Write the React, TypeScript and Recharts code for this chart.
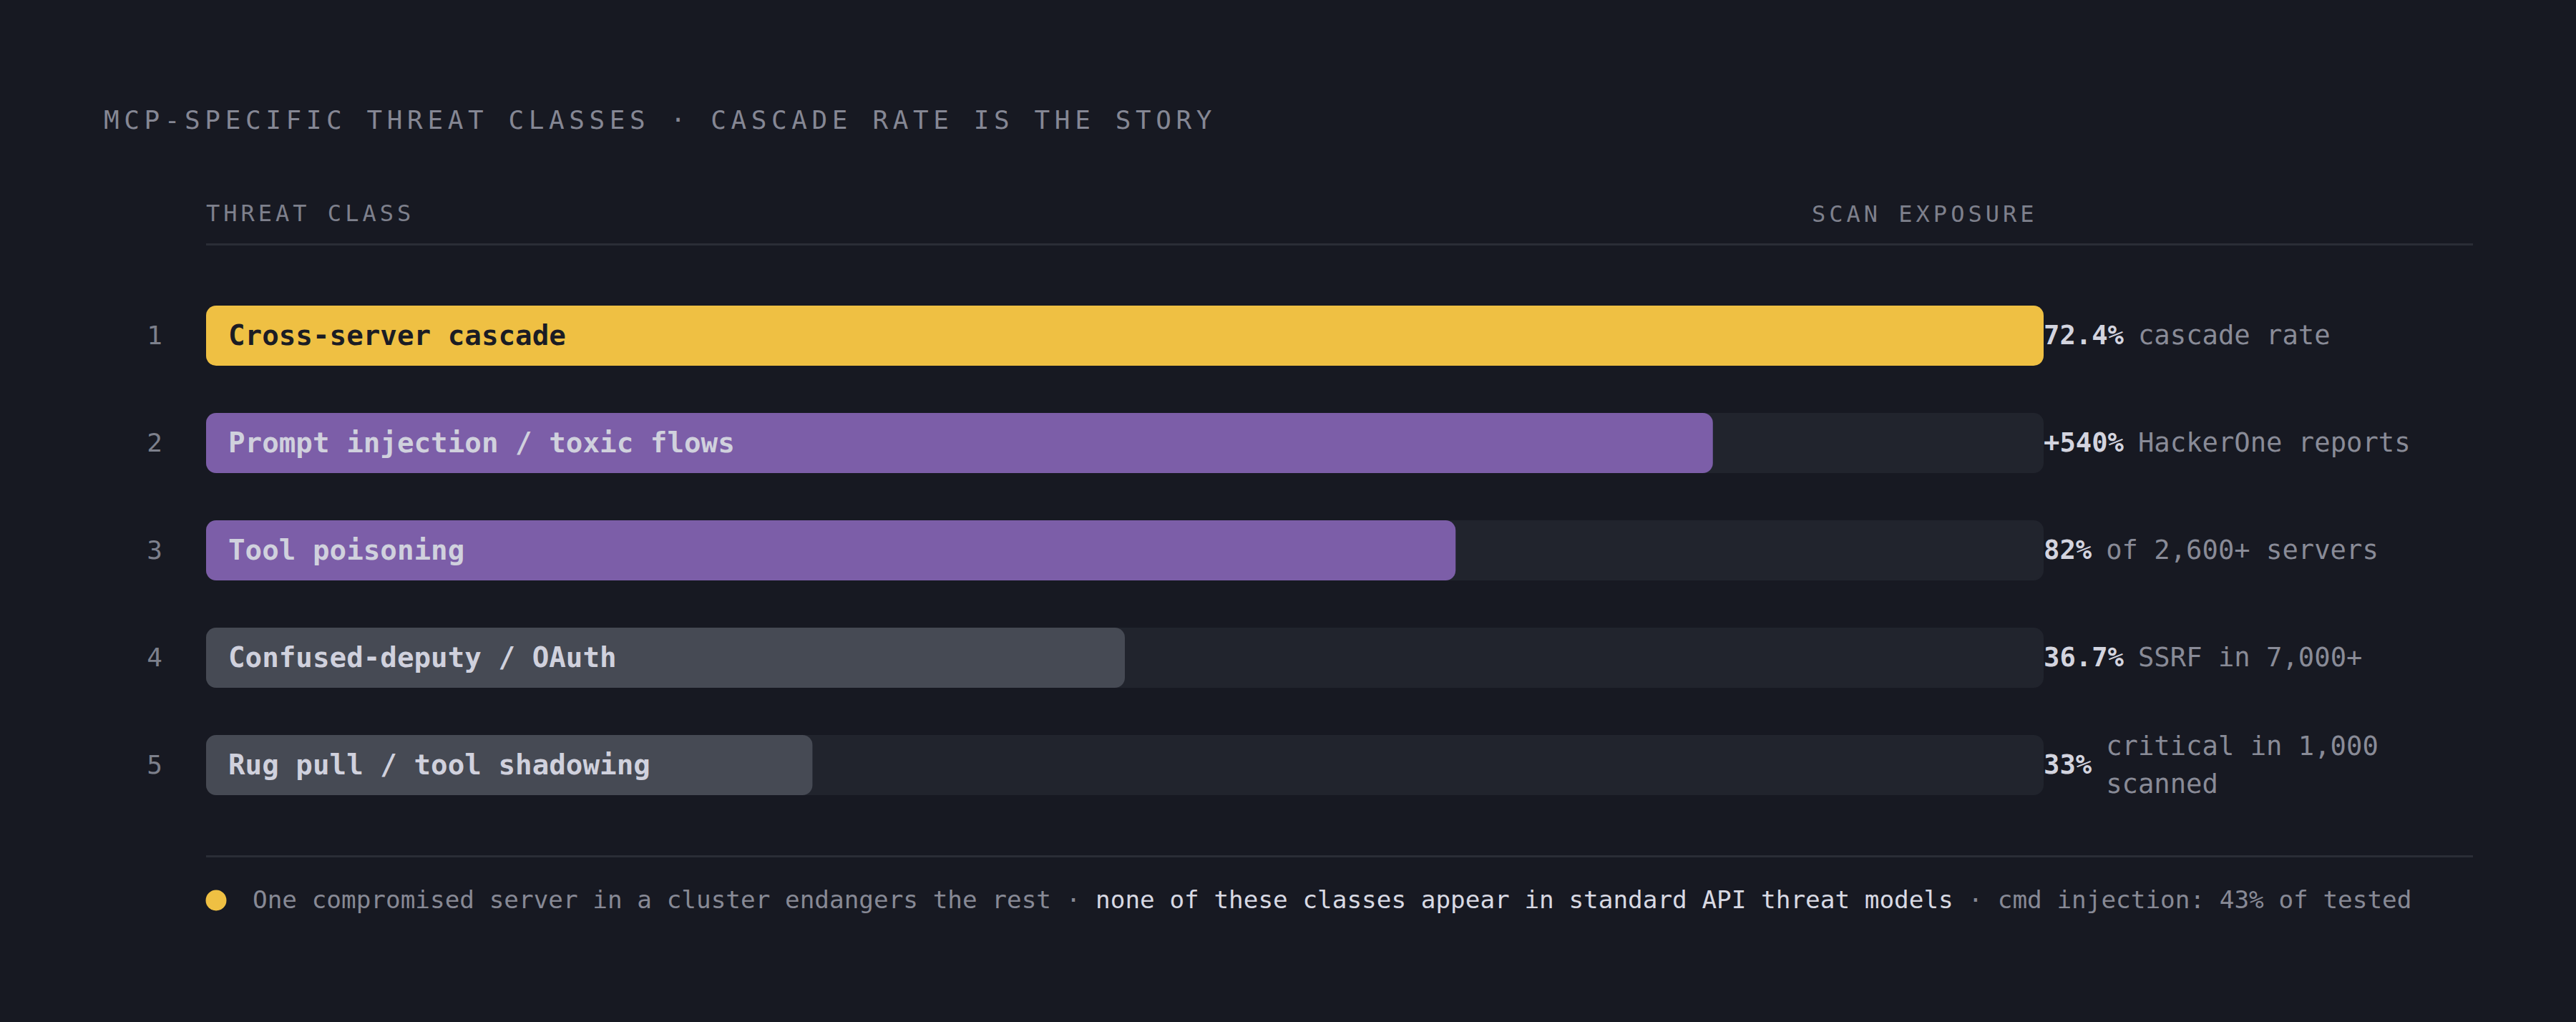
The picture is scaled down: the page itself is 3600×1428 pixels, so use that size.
import React from "react";
import { BarChart, Bar, XAxis, YAxis, Cell, LabelList } from "recharts";

const names = [
  "Cross-server cascade",
  "Prompt injection / toxic flows",
  "Tool poisoning",
  "Confused-deputy / OAuth",
  "Rug pull / tool shadowing",
];
const ranks = ["1", "2", "3", "4", "5"];
const scores = [100, 82, 68, 50, 33];
const exposures = ["72.4%", "+540%", "82%", "36.7%", "33%"];
const details = [
  "cascade rate",
  "HackerOne reports",
  "of 2,600+ servers",
  "SSRF in 7,000+",
  "critical in 1,000 scanned",
];
const barColors = ["#efc043", "#7c5ea8", "#7c5ea8", "#464a54", "#464a54"];
const labelColors = ["#1b1c24", "#d0d1dd", "#d0d1dd", "#d0d1dd", "#d0d1dd"];

const title = "MCP-SPECIFIC THREAT CLASSES · CASCADE RATE IS THE STORY";
const headerLeft = "THREAT CLASS";
const headerRight = "SCAN EXPOSURE";
const footerParts = [
  { text: "One compromised server in a cluster endangers the rest · ", strong: false },
  { text: "none of these classes appear in standard API threat models", strong: true },
  { text: " · cmd injection: 43% of tested", strong: false },
];

const data = names.map((name, i) => ({
  name,
  rank: ranks[i],
  score: scores[i],
  exposure: exposures[i],
  detail: details[i],
}));

const FONT = "'DejaVu Sans Mono', 'Liberation Mono', monospace";
const BG = "#171922";
const TRACK = "#21242d";
const W = 3600;
const H = 1428;
const RIGHT_EDGE = 3456;
const VAL_FS = 37.2;
const PITCH = VAL_FS * 0.602;

function wrapWords(text: string, maxChars: number): string[] {
  const words = text.split(" ");
  const lines: string[] = [];
  let cur = "";
  for (const w of words) {
    const next = cur ? cur + " " + w : w;
    if (next.length > maxChars && cur) {
      lines.push(cur);
      cur = w;
    } else {
      cur = next;
    }
  }
  if (cur) lines.push(cur);
  return lines;
}

const RankTick = (props: any) => {
  const { x, y, payload } = props;
  const row = data.find((d) => d.name === payload.value);
  return (
    <text x={x} y={y + 12} textAnchor="middle" fontFamily={FONT} fontSize={36} fill="#7d808c">
      {row ? row.rank : ""}
    </text>
  );
};

const ExposureTick = (props: any) => {
  const { x, y, payload } = props;
  const row = data.find((d) => d.name === payload.value);
  if (!row) return null;
  const descX = x + row.exposure.length * PITCH + 20;
  const maxChars = Math.floor((RIGHT_EDGE - descX) / PITCH);
  const lines = wrapWords(row.detail, maxChars);
  const lh = 53;
  const base = y + 12 - ((lines.length - 1) * lh) / 2;
  return (
    <g>
      <text x={x} y={y + 12} fontFamily={FONT} fontSize={VAL_FS} fontWeight={700} fill="#d3d4df">
        {row.exposure}
      </text>
      {lines.map((ln, i) => (
        <text key={i} x={descX} y={base + i * lh} fontFamily={FONT} fontSize={VAL_FS} fill="#898b97">
          {ln}
        </text>
      ))}
    </g>
  );
};

const NameLabel = (props: any) => {
  const { x, y, height, index, value } = props;
  return (
    <text
      x={x + 31}
      y={y + height / 2 + 13}
      fontFamily={FONT}
      fontSize={39.2}
      fontWeight={700}
      fill={labelColors[index]}
    >
      {value}
    </text>
  );
};

export default function App() {
  return (
    <div style={{ position: "relative", width: W, height: H, background: BG, overflow: "hidden" }}>
      <style>{`body{margin:0;background:${BG};}`}</style>
      <svg width={W} height={H} style={{ position: "absolute", left: 0, top: 0 }}>
        <text x={145} y={180} fontFamily={FONT} fontSize={36} letterSpacing={6.6} fill="#858794">
          {title}
        </text>
        <text x={288} y={309} fontFamily={FONT} fontSize={32} letterSpacing={5} fill="#7e808c">
          {headerLeft}
        </text>
        <text x={2532} y={310} fontFamily={FONT} fontSize={32} letterSpacing={5} fill="#7e808c">
          {headerRight}
        </text>
        <rect x={288} y={340} width={RIGHT_EDGE - 288} height={3} fill="#2a2d36" />
        <rect x={288} y={1195} width={RIGHT_EDGE - 288} height={3} fill="#2a2d36" />
        <circle cx={302} cy={1258} r={14.5} fill="#efc043" />
        <text x={353} y={1269} fontFamily={FONT} fontSize={34.35} xmlSpace="preserve">
          {footerParts.map((p, i) => (
            <tspan key={i} fill={p.strong ? "#d8d9e3" : "#878995"}>
              {p.text}
            </tspan>
          ))}
        </text>
      </svg>
      <div style={{ position: "absolute", left: 0, top: 0 }}>
        <BarChart
          width={W}
          height={H}
          data={data}
          layout="vertical"
          margin={{ top: 394, right: 144, bottom: 284, left: 168 }}
        >
          <XAxis type="number" domain={[0, 100]} hide />
          <YAxis
            yAxisId="left"
            type="category"
            dataKey="name"
            width={120}
            axisLine={false}
            tickLine={false}
            tickSize={0}
            tickMargin={72}
            tick={<RankTick />}
            interval={0}
          />
          <YAxis
            yAxisId="right"
            orientation="right"
            type="category"
            dataKey="name"
            width={600}
            axisLine={false}
            tickLine={false}
            tickSize={0}
            tickMargin={0}
            tick={<ExposureTick />}
            interval={0}
          />
          <Bar
            yAxisId="left"
            dataKey="score"
            barSize={84}
            radius={14}
            background={{ fill: TRACK, radius: 14 }}
            isAnimationActive={false}
          >
            {data.map((d, i) => (
              <Cell key={d.name} fill={barColors[i]} />
            ))}
            <LabelList dataKey="name" content={<NameLabel />} />
          </Bar>
        </BarChart>
      </div>
    </div>
  );
}
